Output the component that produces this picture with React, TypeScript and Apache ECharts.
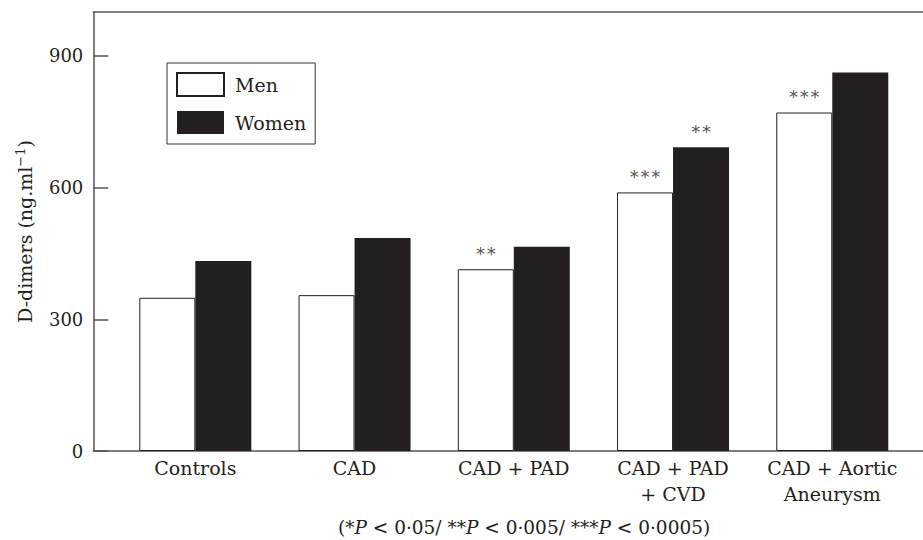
import React, { useEffect, useRef } from "react";
import * as echarts from "echarts";

const categories = ["Controls", "CAD", "CAD + PAD", "CAD + PAD\n+ CVD", "CAD + Aortic\nAneurysm"];
const menValues = [349, 355, 414, 589, 771];
const womenValues = [433, 485, 465, 692, 862];
const menStars = ["", "", "**", "***", "***"];
const womenStars = ["", "", "", "**", ""];
const yTicks = [0, 300, 600, 900];

const SERIF = "DejaVu Serif";
const INK = "#231f20";
const LINE = "#555555";

export default function App() {
  const ref = useRef<HTMLDivElement>(null);
  useEffect(() => {
    if (!ref.current) return;
    const chart = echarts.init(ref.current, null, { renderer: "svg" });
    const star = (arr: string[]) => (p: any) => arr[p.dataIndex].split("").join("\u200a");
    const starLabel = (arr: string[]) => ({
      show: true,
      position: "top",
      distance: 7,
      formatter: star(arr),
      fontFamily: "DejaVu Sans",
      fontSize: 18,
      color: "#555555",
    });
    chart.setOption({
      animation: false,
      backgroundColor: "#ffffff",
      title: {
        left: 338,
        top: 518,
        padding: 0,
        text:
          "{a|(*}{i|P}{a| < 0·05/ **}{i|P}{a| < 0·005/ ***}{i|P}{a| < 0·0005)}",
        textStyle: {
          fontWeight: "normal",
          rich: {
            a: { fontFamily: SERIF, fontSize: 18.5, color: INK, fontWeight: "normal" },
            i: { fontFamily: SERIF, fontSize: 18.5, color: INK, fontStyle: "italic", fontWeight: "normal" },
          },
        },
      },
      legend: {
        orient: "vertical",
        left: 167,
        top: 63,
        padding: [9, 9, 10, 9],
        borderColor: "#333",
        borderWidth: 1,
        itemWidth: 47,
        itemHeight: 23,
        itemGap: 14,
        icon: "rect",
        data: ["Men", "Women"],
        textStyle: { fontFamily: SERIF, fontSize: 19, color: INK, padding: [0, 0, 0, 6] },
      },
      grid: [
        { left: 115.7, right: 11.1, top: 12, height: 439 },
        { left: 93.3, right: 0, top: 12, height: 439 },
      ],
      xAxis: [
        {
          type: "category",
          gridIndex: 0,
          data: categories,
          axisLine: { show: false },
          axisTick: { show: false },
          axisLabel: {
            fontFamily: SERIF,
            fontSize: 19,
            color: INK,
            lineHeight: 26,
            margin: 4,
            interval: 0,
          },
        },
        {
          type: "value",
          gridIndex: 1,
          position: "bottom",
          min: 0,
          max: 1,
          axisLine: { show: true, lineStyle: { color: LINE, width: 1.5 } },
          axisTick: { show: false },
          axisLabel: { show: false },
          splitLine: { show: false },
        },
        {
          type: "value",
          gridIndex: 1,
          position: "top",
          min: 0,
          max: 1,
          axisLine: { show: true, onZero: false, lineStyle: { color: LINE, width: 1.5 } },
          axisTick: { show: false },
          axisLabel: { show: false },
          splitLine: { show: false },
        },
      ],
      yAxis: [
        {
          type: "value",
          gridIndex: 0,
          min: 0,
          max: 1000,
          show: false,
          splitLine: { show: false },
        },
        {
          type: "value",
          gridIndex: 1,
          min: 0,
          max: 1000,
          interval: 100,
          axisLine: { show: true, lineStyle: { color: LINE, width: 1.5 } },
          axisTick: {
            show: true,
            inside: true,
            length: 15,
            customValues: yTicks,
            lineStyle: { color: LINE, width: 1.5 },
          },
          axisLabel: {
            customValues: yTicks,
            fontFamily: SERIF,
            fontSize: 18,
            color: INK,
            margin: 10,
          },
          splitLine: { show: false },
          name: "{a|D-dimers (ng.ml}{s|\u22121}{a|)}",
          nameLocation: "middle",
          nameGap: 57,
          nameTextStyle: {
            rich: {
              a: { fontFamily: SERIF, fontSize: 19, color: INK, verticalAlign: "bottom", lineHeight: 20 },
              s: {
                fontFamily: SERIF,
                fontSize: 13,
                color: INK,
                verticalAlign: "top",
                lineHeight: 13,
                padding: [0, 0, 11, 0],
              },
            },
          },
        },
      ],
      series: [
        {
          name: "Men",
          type: "bar",
          xAxisIndex: 0,
          yAxisIndex: 0,
          data: menValues,
          barWidth: 56,
          barGap: "0%",
          itemStyle: { color: "#ffffff", borderColor: INK, borderWidth: 1 },
          label: starLabel(menStars),
        },
        {
          name: "Women",
          type: "bar",
          xAxisIndex: 0,
          yAxisIndex: 0,
          data: womenValues,
          barWidth: 56,
          barGap: "0%",
          itemStyle: { color: INK },
          label: starLabel(womenStars),
        },
      ],
    });
    return () => chart.dispose();
  }, []);
  return (
    <div
      ref={ref}
      style={{ position: "absolute", left: 0, top: 0, width: 923, height: 540, background: "#fff" }}
    />
  );
}
